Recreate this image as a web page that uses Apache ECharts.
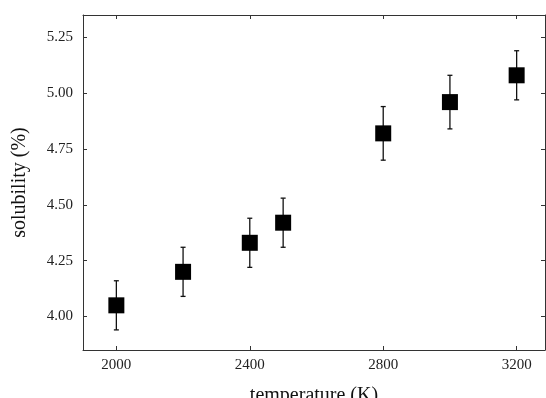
<!DOCTYPE html>
<html>
<head>
<meta charset="utf-8">
<script src="https://cdn.jsdelivr.net/npm/echarts@6/dist/echarts.min.js"></script>
<style>
  html, body { margin: 0; padding: 0; background: #fff; }
  #chart { width: 546px; height: 398px; }
</style>
</head>
<body>
<div id="chart"></div>
<script>
const temperatures = [2000, 2200, 2400, 2500, 2800, 3000, 3200];
const solubility = [4.05, 4.20, 4.33, 4.42, 4.82, 4.96, 5.08];
const errLow = [3.94, 4.09, 4.22, 4.31, 4.70, 4.84, 4.97];
const errHigh = [4.16, 4.31, 4.44, 4.53, 4.94, 5.08, 5.19];
const xTicks = [2000, 2400, 2800, 3200];
const yTicks = [4.00, 4.25, 4.50, 4.75, 5.00, 5.25];

const chart = echarts.init(document.getElementById("chart"));

const axisColor = "#333";
const font = "Liberation Serif";

const points = temperatures.map((t, i) => [t, solubility[i]]);
const bars = temperatures.map((t, i) => [t, errLow[i], errHigh[i]]);

const option = {
  animation: false,
  textStyle: { fontFamily: font },
  grid: { left: 83, top: 15, width: 462, height: 335, outerBoundsMode: "none", containLabel: false },
  xAxis: [
    {
      type: "value",
      min: 1900,
      max: 3285,
      name: "temperature (K)",
      nameLocation: "middle",
      nameGap: 36,
      nameTextStyle: { fontFamily: font, fontSize: 20, color: "#111" },
      axisLine: { show: true, lineStyle: { color: axisColor, width: 1 } },
      axisTick: { inside: true, length: 4, customValues: xTicks, lineStyle: { color: axisColor } },
      axisLabel: {
        customValues: xTicks,
        margin: 8,
        fontFamily: font,
        fontSize: 15,
        color: "#222",
        formatter: (v) => String(v),
      },
      splitLine: { show: false },
    },
    {
      type: "value",
      position: "top",
      min: 1900,
      max: 3285,
      axisLine: { show: true, lineStyle: { color: axisColor, width: 1 } },
      axisTick: { inside: true, length: 4, customValues: xTicks, lineStyle: { color: axisColor } },
      axisLabel: { show: false },
      splitLine: { show: false },
    },
  ],
  yAxis: [
    {
      type: "value",
      min: 3.85,
      max: 5.35,
      name: "solubility (%)",
      nameLocation: "middle",
      nameGap: 53,
      nameTextStyle: { fontFamily: font, fontSize: 20, color: "#111" },
      axisLine: { show: true, lineStyle: { color: axisColor, width: 1 } },
      axisTick: { inside: true, length: 4, customValues: yTicks, lineStyle: { color: axisColor } },
      axisLabel: {
        customValues: yTicks,
        margin: 10,
        fontFamily: font,
        fontSize: 15,
        color: "#222",
        formatter: (v) => v.toFixed(2),
      },
      splitLine: { show: false },
    },
    {
      type: "value",
      position: "right",
      min: 3.85,
      max: 5.35,
      axisLine: { show: true, lineStyle: { color: axisColor, width: 1 } },
      axisTick: { inside: true, length: 4, customValues: yTicks, lineStyle: { color: axisColor } },
      axisLabel: { show: false },
      splitLine: { show: false },
    },
  ],
  series: [
    {
      type: "custom",
      data: bars,
      renderItem: (params, api) => {
        const x = api.value(0);
        const lo = api.coord([x, api.value(1)]);
        const hi = api.coord([x, api.value(2)]);
        const cap = 2.5;
        const style = { stroke: "#111", lineWidth: 1.3 };
        return {
          type: "group",
          children: [
            { type: "line", shape: { x1: lo[0], y1: lo[1], x2: hi[0], y2: hi[1] }, style },
            { type: "line", shape: { x1: lo[0] - cap, y1: lo[1], x2: lo[0] + cap, y2: lo[1] }, style },
            { type: "line", shape: { x1: hi[0] - cap, y1: hi[1], x2: hi[0] + cap, y2: hi[1] }, style },
          ],
        };
      },
      z: 1,
    },
    {
      type: "scatter",
      data: points,
      symbol: "rect",
      symbolSize: 16,
      itemStyle: { color: "#000", opacity: 1 },
      z: 2,
    },
  ],
};

chart.setOption(option);
</script>
</body>
</html>
